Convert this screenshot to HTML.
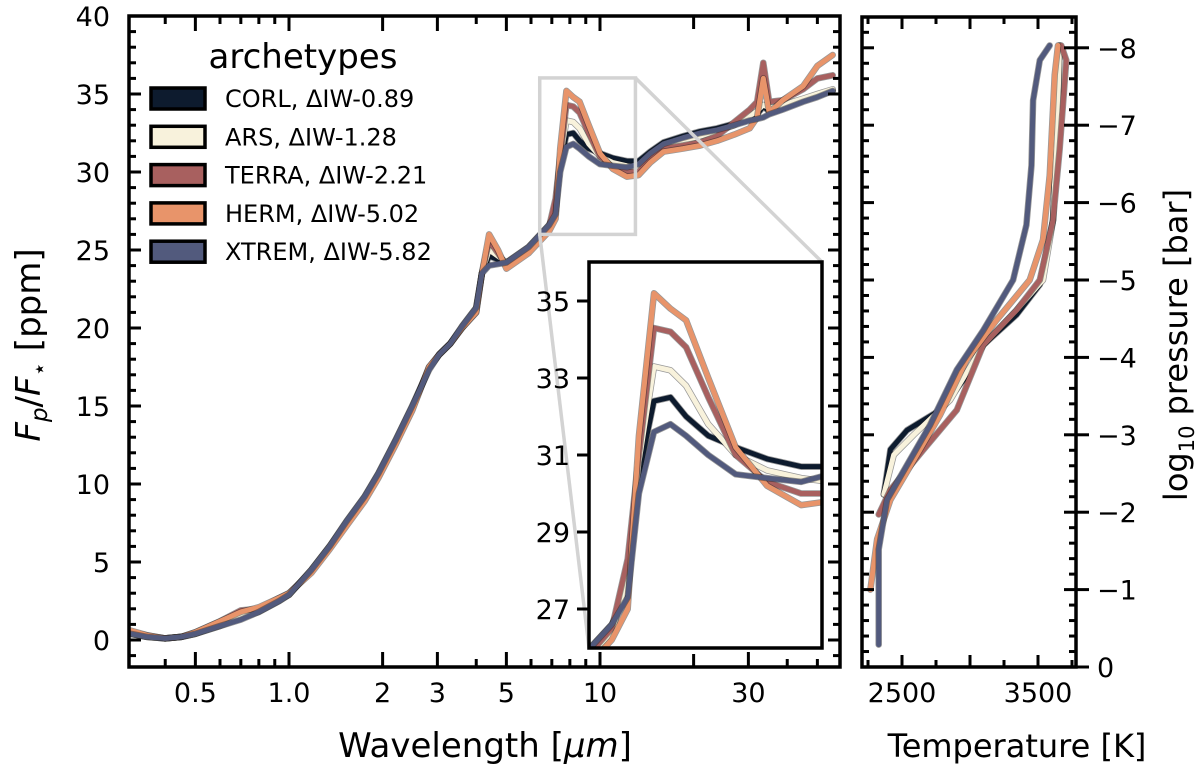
<!DOCTYPE html>
<html><head><meta charset="utf-8"><style>
html,body{margin:0;background:#fff;overflow:hidden;width:1200px;height:776px}
svg{display:block;font-family:"DejaVu Sans","Liberation Sans",sans-serif}
</style></head><body>
<svg id="fig" width="1200" height="776" viewBox="0 0 1200 776" xmlns="http://www.w3.org/2000/svg">
<defs>
<clipPath id="clipMain"><rect x="129" y="16" width="711" height="651"/></clipPath>
<clipPath id="clipInset"><rect x="589" y="262" width="233" height="386"/></clipPath>
<clipPath id="clipRight"><rect x="862" y="17" width="214" height="650"/></clipPath>
</defs>
<g id="main"></g>
<g id="right"></g>
<g id="inset"></g>
<text x="485" y="757" font-size="34" text-anchor="middle">Wavelength [<tspan font-style="italic">μm</tspan>]</text>
<text transform="translate(40,345) rotate(-90)" font-size="34" text-anchor="middle"><tspan font-style="italic">F</tspan><tspan font-style="italic" font-size="23" dy="7">p</tspan><tspan dy="-7">/</tspan><tspan font-style="italic">F</tspan><tspan font-size="23" dy="7">⋆</tspan><tspan dy="-7"> [ppm]</tspan></text>
<text x="1017" y="757" font-size="32" text-anchor="middle">Temperature [K]</text>
<text transform="translate(1187,345) rotate(-90)" font-size="32" text-anchor="middle">log<tspan font-size="21" dy="7">10</tspan><tspan dy="-7"> pressure [bar]</tspan></text>
<g id="legend"></g>
</svg>
<script>
const NS="http://www.w3.org/2000/svg";
const names=["CORL, ΔIW-0.89","ARS, ΔIW-1.28","TERRA, ΔIW-2.21","HERM, ΔIW-5.02","XTREM, ΔIW-5.82"];
const keys=["corl","ars","terra","herm","xtrem"];
const colors=["#0d1b2e","#f8f2dc","#a8605f","#e8946a","#525a7d"];
const wavelength=[0.31,0.35,0.4,0.45,0.5,0.6,0.7,0.8,0.93,1.0,1.18,1.35,1.53,1.75,1.94,2.2,2.49,2.82,3.04,3.3,3.6,4.0,4.17,4.4,4.7,5.0,5.9,6.86,7.2,7.45,7.8,8.2,8.6,9.2,10,11,12.2,13.3,14.5,16,18.5,21,23.8,27,30.3,32,33.5,35,38.7,45,50,56];
const fluxCORL=[0.4,0.2,0.1,0.2,0.4,0.9,1.4,1.8,2.5,2.9,4.5,6.0,7.6,9.2,10.7,12.8,15.0,17.4,18.3,19.0,20.1,21.3,23.5,24.6,24.4,24.2,25.2,26.6,27.5,30.5,32.4,32.5,32.0,31.5,31.2,30.9,30.7,30.7,31.3,31.9,32.3,32.6,32.8,33.1,33.5,33.7,34.2,33.9,34.2,34.6,34.9,35.2];
const fluxARS=[0.4,0.2,0.1,0.2,0.4,1.0,1.5,1.9,2.6,2.9,4.5,6.0,7.5,9.1,10.6,12.7,14.9,17.4,18.3,19.0,20.0,21.2,23.5,25.0,24.6,24.2,25.0,26.4,27.8,30.8,33.3,33.2,32.8,31.8,31.0,30.6,30.4,30.3,31.0,31.7,32.0,32.3,32.6,33.0,33.6,33.9,34.3,34.1,34.3,34.7,35.0,35.3];
const fluxTERRA=[0.5,0.3,0.1,0.2,0.5,1.2,1.9,2.0,2.7,3.0,4.4,5.9,7.4,9.0,10.5,12.6,14.8,17.5,18.3,19.0,20.0,21.0,23.5,25.6,24.8,24.0,25.0,26.5,28.3,31.0,34.3,34.2,33.8,32.5,31.0,30.3,30.0,30.0,30.8,31.5,31.7,31.9,32.3,33.2,34.0,34.5,37.0,34.5,34.6,35.3,36.0,36.2];
const fluxHERM=[0.6,0.3,0.1,0.2,0.5,1.2,1.8,2.1,2.7,3.0,4.3,5.8,7.3,8.9,10.4,12.5,14.7,17.5,18.3,19.0,20.0,21.0,23.5,26.0,25.0,23.8,24.8,26.2,27.0,31.5,35.2,34.8,34.5,33.0,31.2,30.2,29.7,29.8,30.6,31.3,31.5,31.7,32.0,32.4,32.8,33.5,36.0,33.8,34.6,35.5,36.8,37.5];
const fluxXTREM=[0.4,0.2,0.1,0.2,0.4,0.9,1.3,1.8,2.5,2.9,4.5,6.0,7.6,9.2,10.7,12.8,15.0,17.3,18.3,19.0,20.1,21.3,23.5,24.0,24.1,24.2,25.2,26.6,27.3,30.0,31.6,31.8,31.5,31.0,30.5,30.4,30.3,30.5,31.2,31.8,32.2,32.5,32.7,33.0,33.3,33.4,33.5,33.7,34.0,34.5,34.8,35.2];
const tempCORL=[2366,2415,2537,2781,2952,3098,3342,3513,3610,3647,3659];
const presCORL=[-2.23,-2.81,-3.06,-3.32,-3.71,-4.16,-4.55,-4.94,-5.77,-7.32,-8.03];
const tempARS=[2366,2439,2586,2854,3098,3342,3537,3610,3647,3659];
const presARS=[-2.23,-2.74,-3.0,-3.45,-4.16,-4.61,-5.0,-5.77,-7.32,-8.03];
const tempTERRA=[2329,2415,2659,2903,3098,3342,3513,3610,3659,3708,3671];
const presTERRA=[-1.97,-2.29,-2.81,-3.32,-4.16,-4.61,-5.0,-5.77,-6.68,-7.84,-8.03];
const tempHERM=[2268,2317,2415,2610,2781,2976,3195,3439,3537,3586,3623,3647];
const presHERM=[-1.0,-1.65,-2.16,-2.74,-3.26,-3.97,-4.48,-5.0,-5.52,-6.35,-7.65,-8.03];
const tempXTREM=[2329,2329,2390,2537,2707,2903,3098,3317,3415,3452,3464,3513,3586];
const presXTREM=[-0.29,-1.52,-2.16,-2.61,-3.13,-3.84,-4.35,-5.0,-5.71,-6.48,-7.32,-7.84,-8.03];
const fluxes=[fluxCORL,fluxARS,fluxTERRA,fluxHERM,fluxXTREM];
const temps=[tempCORL,tempARS,tempTERRA,tempHERM,tempXTREM];
const press=[presCORL,presARS,presTERRA,presHERM,presXTREM];
const mainYTicks=[0,5,10,15,20,25,30,35,40];
const mainXTicks=[0.5,1.0,2,3,5,10,30];
const mainXTickLabels=["0.5","1.0","2","3","5","10","30"];
const mainXMinor=[0.4,0.6,0.7,0.8,0.9,4,6,7,8,9,20,40,50];
const insetYTicks=[27,29,31,33,35];
const tempTicks=[2500,3000,3500];
const tempTickLabels=["2500","","3500"];
const presTicks=[0,-1,-2,-3,-4,-5,-6,-7,-8];

const mx=l=>600+311*(Math.log10(l)-1);
const my=v=>640-15.6*v;
const L0=Math.log10(6.4),L1=Math.log10(13);
const ix=l=>589+233*(Math.log10(l)-L0)/(L1-L0);
const iy=v=>455-38.5*(v-31);
const rx=T=>902+0.136*(T-2500);
const ry=p=>667+77.4*p;

function el(tag,attrs,parent){const e=document.createElementNS(NS,tag);for(const k in attrs)e.setAttribute(k,attrs[k]);parent.appendChild(e);return e;}
const main=document.getElementById('main'),inset=document.getElementById('inset'),right=document.getElementById('right'),legend=document.getElementById('legend');
function drawLine(parent,d,i,name){
  el('path',{d:d,fill:'none',stroke:'#1a1a1a','stroke-opacity':0.45,'stroke-width':6.5,'stroke-linejoin':'round','stroke-linecap':'round'},parent);
  const p=el('path',{d:d,fill:'none',stroke:colors[i],'stroke-width':5,'stroke-linejoin':'round','stroke-linecap':'round'},parent);
  
  
}

const mLines=el('g',{'clip-path':'url(#clipMain)'},main);
fluxes.forEach((f,i)=>{
  const d=wavelength.map((l,j)=>(j?'L':'M')+mx(l).toFixed(1)+','+my(f[j]).toFixed(1)).join('');
  drawLine(mLines,d,i,'spectrum-'+keys[i]);
});
const mf=el('rect',{x:129,y:16,width:711,height:651,fill:'none',stroke:'#000','stroke-width':3.5},main);


for(let v=-1;v<=40;v++){const y=my(v);const maj=v%5===0;const len=maj?12:7;
  el('line',{x1:129,x2:129+len,y1:y,y2:y,stroke:'#000','stroke-width':3},main);
  el('line',{x1:840,x2:840-len,y1:y,y2:y,stroke:'#000','stroke-width':3},main);}
mainYTicks.forEach(v=>{const t=el('text',{x:110,y:my(v)+10,'font-size':27,'text-anchor':'end'},main);t.textContent=v;
  
  });
mainXTicks.forEach((l,i)=>{const x=mx(l);
  el('line',{x1:x,x2:x,y1:667,y2:652,stroke:'#000','stroke-width':3},main);
  el('line',{x1:x,x2:x,y1:16,y2:31,stroke:'#000','stroke-width':3},main);
  const t=el('text',{x:x,y:702,'font-size':27,'text-anchor':'middle'},main);t.textContent=mainXTickLabels[i];
  
  });
mainXMinor.forEach(l=>{const x=mx(l);const len=l===20?13:8;
  el('line',{x1:x,x2:x,y1:667,y2:667-len,stroke:'#000','stroke-width':3},main);
  el('line',{x1:x,x2:x,y1:16,y2:16+len,stroke:'#000','stroke-width':3},main);});
const zb=el('g',{stroke:'#d3d3d3','stroke-width':3.5,fill:'none'},main);


el('rect',{x:mx(6.4),y:my(36.03),width:mx(13)-mx(6.4),height:my(26)-my(36.03)},zb);
el('line',{x1:mx(13),y1:my(36.03),x2:822,y2:262},zb);
el('line',{x1:mx(6.4),y1:my(26),x2:589,y2:648},zb);

el('rect',{x:589,y:262,width:233,height:386,fill:'#fff'},inset);
const iLines=el('g',{'clip-path':'url(#clipInset)'},inset);
fluxes.forEach((f,i)=>{
  const d=wavelength.map((l,j)=>(j?'L':'M')+ix(l).toFixed(1)+','+iy(f[j]).toFixed(1)).join('');
  drawLine(iLines,d,i,'inset-spectrum-'+keys[i]);
});
el('rect',{x:589,y:262,width:233,height:386,fill:'none',stroke:'#000','stroke-width':3.5},inset);
insetYTicks.forEach(v=>{const y=iy(v);
  el('line',{x1:589,x2:577,y1:y,y2:y,stroke:'#000','stroke-width':3},inset);
  const t=el('text',{x:570,y:y+10,'font-size':27,'text-anchor':'end'},inset);t.textContent=v;
  
  });

const rLines=el('g',{'clip-path':'url(#clipRight)'},right);
temps.forEach((T,i)=>{
  const d=T.map((t,j)=>(j?'L':'M')+rx(t).toFixed(1)+','+ry(press[i][j]).toFixed(1)).join('');
  drawLine(rLines,d,i,'tp-profile-'+keys[i]);
});
el('rect',{x:862,y:17,width:214,height:650,fill:'none',stroke:'#000','stroke-width':3.5},right);
for(let T=2250;T<=3750;T+=250){const x=rx(T);if(x<863||x>1075)continue;const maj=T%500===0;const len=maj?12:7;
  el('line',{x1:x,x2:x,y1:667,y2:667-len,stroke:'#000','stroke-width':3},right);
  el('line',{x1:x,x2:x,y1:17,y2:17+len,stroke:'#000','stroke-width':3},right);}
tempTicks.forEach((T,i)=>{if(!tempTickLabels[i])return;const t=el('text',{x:rx(T),y:702,'font-size':27,'text-anchor':'middle'},right);t.textContent=tempTickLabels[i];
  
  });
for(let k=0;k<=43;k++){const p=-k*0.2;const y=ry(p);if(y<18)continue;const maj=k%5===0;const len=maj?12:7;
  el('line',{x1:862,x2:862+len,y1:y,y2:y,stroke:'#000','stroke-width':3},right);
  el('line',{x1:1076,x2:1076-len,y1:y,y2:y,stroke:'#000','stroke-width':3},right);}
presTicks.forEach(p=>{const y=ry(p);
  el('line',{x1:1076,x2:1089,y1:y,y2:y,stroke:'#000','stroke-width':3},right);
  const t=el('text',{x:1097,y:y+10,'font-size':27},right);t.textContent=p===0?'0':'−'+(-p);
  
  });

const lt=el('text',{x:303,y:68,'font-size':34,'text-anchor':'middle'},legend);lt.textContent='archetypes';


names.forEach((n,i)=>{const y=98+38.3*i;
  const r=el('rect',{x:151,y:y-10,width:54,height:21,fill:colors[i],stroke:'#000','stroke-width':3.5},legend);
  
  
  const t=el('text',{x:225,y:y+9,'font-size':24},legend);t.textContent=n;
  
  });
</script>
</body></html>
